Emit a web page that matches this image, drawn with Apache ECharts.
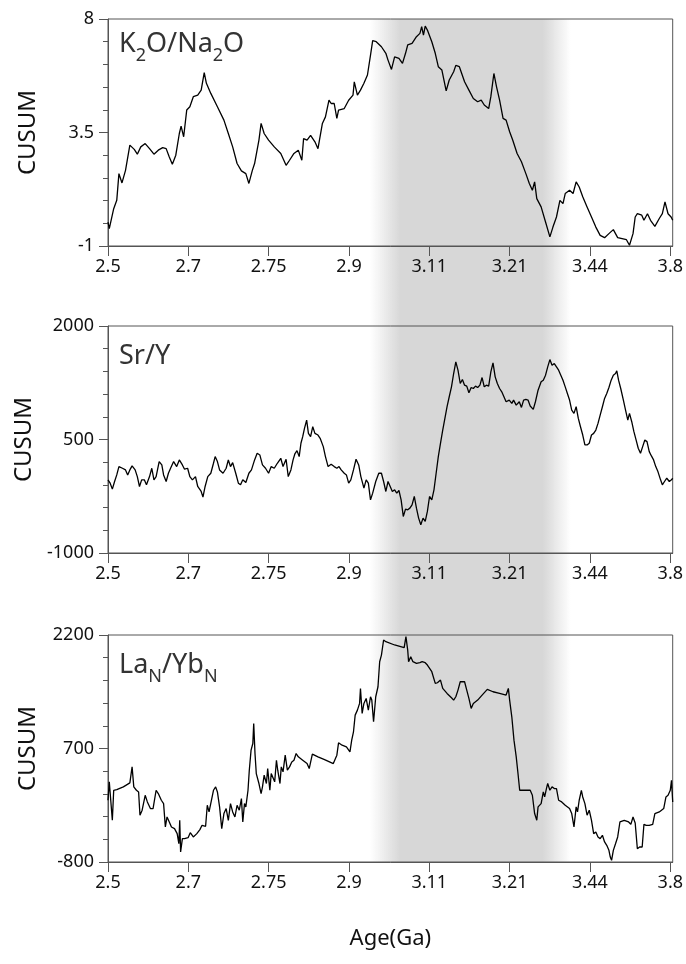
<!DOCTYPE html>
<html><head><meta charset="utf-8">
<script src="https://cdn.jsdelivr.net/npm/echarts@6/dist/echarts.min.js"></script>
<style>html,body{margin:0;padding:0;background:#fff}#c{width:686px;height:964px}</style>
</head><body><div id="c"></div><script>
// x positions are in tick units (0 = "2.5" tick ... 7 = "3.8" tick)
const tickLabels = ['2.5','2.7','2.75','2.9','3.11','3.21','3.44','3.8'];
const tickPos = [0,1,2,3,4,5,6,7];
const xMax = 7.03;
const bandRange = [3.24, 5.72];

const k2oX = [0,0.016,0.071,0.109,0.136,0.174,0.218,0.272,0.327,0.365,0.408,0.463,0.517,0.572,0.626,0.681,0.724,0.763,0.801,0.844,0.888,0.910,0.942,0.980,1.019,1.062,1.117,1.160,1.198,1.225,1.280,1.362,1.443,1.498,1.552,1.607,1.661,1.716,1.754,1.797,1.825,1.879,1.906,1.944,1.999,2.070,2.151,2.217,2.260,2.315,2.369,2.413,2.435,2.478,2.522,2.576,2.614,2.669,2.707,2.751,2.778,2.816,2.849,2.870,2.941,2.996,3.050,3.066,3.105,3.143,3.186,3.230,3.268,3.295,3.339,3.404,3.459,3.486,3.529,3.568,3.622,3.666,3.704,3.731,3.785,3.840,3.883,3.905,3.927,3.949,3.976,4.031,4.074,4.112,4.156,4.210,4.248,4.303,4.330,4.374,4.439,4.493,4.548,4.602,4.646,4.684,4.739,4.766,4.804,4.837,4.875,4.918,4.956,5.000,5.038,5.093,5.147,5.202,5.245,5.283,5.311,5.338,5.392,5.447,5.501,5.539,5.583,5.626,5.664,5.692,5.746,5.790,5.828,5.866,5.910,5.964,6.019,6.073,6.127,6.182,6.236,6.291,6.345,6.400,6.454,6.492,6.536,6.563,6.590,6.645,6.672,6.716,6.754,6.808,6.863,6.901,6.934,6.972,7.010,7.03];
const k2oY = [-0.05,-0.31,0.48,0.81,1.87,1.50,2.00,3.00,2.83,2.64,2.93,3.06,2.86,2.64,2.80,2.90,2.86,2.53,2.24,2.60,3.46,3.75,3.33,4.39,4.52,4.92,4.98,5.18,5.87,5.45,5.05,4.52,3.99,3.46,2.93,2.27,1.98,1.87,1.48,2.00,2.27,3.20,3.86,3.46,3.20,2.93,2.67,2.20,2.40,2.67,2.80,2.40,3.26,3.20,3.39,3.13,2.86,3.86,4.12,4.78,4.65,4.65,4.06,4.39,4.45,4.78,4.98,5.51,4.98,5.18,5.45,5.78,6.57,7.14,7.10,6.90,6.64,6.37,6.00,6.50,6.44,6.24,6.64,6.97,7.03,7.30,7.43,7.70,7.36,7.72,7.56,7.10,6.64,6.11,5.98,5.15,5.58,5.91,6.16,6.11,5.51,5.18,4.85,4.72,4.78,4.59,4.45,4.92,5.84,5.31,4.78,4.06,3.99,3.53,3.20,2.67,2.34,1.87,1.48,1.21,1.54,0.88,0.55,-0.05,-0.64,-0.25,0.15,0.81,0.68,1.08,1.21,1.08,1.54,1.34,0.95,0.55,0.15,-0.25,-0.58,-0.67,-0.51,-0.35,-0.67,-0.71,-0.75,-0.97,-0.51,0.15,0.28,0.22,0.02,0.28,0.02,-0.22,0.09,0.28,0.75,0.28,0.15,0.02];

const sryX = [0,0.027,0.054,0.082,0.109,0.136,0.180,0.218,0.245,0.272,0.300,0.338,0.365,0.392,0.419,0.452,0.479,0.517,0.545,0.572,0.599,0.637,0.670,0.692,0.724,0.752,0.779,0.817,0.855,0.888,0.926,0.953,0.991,1.019,1.051,1.089,1.117,1.160,1.182,1.209,1.242,1.280,1.313,1.334,1.362,1.389,1.432,1.471,1.498,1.525,1.552,1.590,1.623,1.650,1.678,1.716,1.754,1.786,1.825,1.857,1.890,1.923,1.961,1.999,2.032,2.070,2.108,2.151,2.179,2.217,2.244,2.277,2.304,2.326,2.353,2.380,2.402,2.424,2.446,2.473,2.495,2.522,2.549,2.576,2.614,2.641,2.680,2.707,2.740,2.778,2.816,2.849,2.876,2.903,2.941,2.968,2.996,3.023,3.056,3.088,3.121,3.148,3.186,3.214,3.241,3.268,3.295,3.333,3.371,3.404,3.431,3.459,3.486,3.513,3.540,3.568,3.595,3.622,3.649,3.676,3.704,3.731,3.758,3.785,3.813,3.840,3.867,3.894,3.922,3.949,3.976,4.003,4.031,4.058,4.085,4.112,4.139,4.167,4.194,4.221,4.248,4.276,4.303,4.330,4.357,4.385,4.412,4.439,4.466,4.493,4.521,4.548,4.575,4.602,4.630,4.657,4.684,4.711,4.739,4.766,4.793,4.820,4.847,4.875,4.902,4.929,4.956,4.995,5.027,5.049,5.082,5.120,5.147,5.174,5.202,5.229,5.256,5.294,5.321,5.354,5.392,5.419,5.447,5.474,5.501,5.528,5.556,5.583,5.610,5.637,5.664,5.692,5.719,5.746,5.773,5.801,5.828,5.855,5.882,5.910,5.937,5.964,5.991,6.019,6.046,6.073,6.100,6.127,6.155,6.182,6.209,6.236,6.264,6.291,6.318,6.334,6.356,6.383,6.416,6.443,6.471,6.492,6.520,6.547,6.574,6.601,6.629,6.656,6.683,6.710,6.738,6.765,6.792,6.819,6.846,6.879,6.901,6.928,6.956,6.988,7.015,7.03];
const sryY = [-33,-77,-156,-55,32,142,120,98,32,98,151,98,10,-121,-33,-33,-99,10,120,-33,10,208,164,32,-55,54,120,208,142,230,164,107,120,10,-33,10,-121,-187,-262,-121,10,54,186,274,208,98,54,120,230,142,195,54,-77,-99,-33,-69,54,98,230,318,296,164,120,54,142,120,186,252,142,239,10,98,230,309,353,274,450,537,647,757,581,537,669,581,559,516,406,274,142,173,142,120,142,98,54,32,-77,-33,98,239,164,10,-143,-33,-77,-297,-209,-55,54,54,-55,-187,-55,-121,-187,-165,-209,-174,-297,-517,-420,-429,-407,-363,-253,-407,-539,-626,-539,-582,-451,-253,-297,-165,54,274,450,625,779,933,1065,1196,1372,1526,1416,1240,1293,1218,1205,1117,1187,1174,1205,1187,1218,1319,1196,1218,1205,1394,1512,1328,1240,1174,1130,1065,999,1021,977,1021,955,999,924,1021,1029,1021,942,898,999,1152,1262,1284,1350,1460,1556,1482,1504,1460,1416,1350,1284,1196,1108,1021,889,845,933,779,669,559,428,428,450,559,581,625,713,823,933,1043,1108,1187,1284,1350,1372,1407,1284,1174,1021,889,757,845,735,603,494,384,318,406,494,472,340,283,230,142,76,-33,-99,-55,-12,-55,-33,-12];

const laybX = [0,0.016,0.038,0.054,0.071,0.109,0.191,0.272,0.300,0.321,0.354,0.381,0.398,0.425,0.463,0.490,0.528,0.561,0.599,0.626,0.664,0.692,0.714,0.735,0.763,0.790,0.828,0.861,0.882,0.893,0.904,0.926,0.953,0.997,1.024,1.062,1.106,1.144,1.171,1.215,1.236,1.258,1.280,1.313,1.340,1.362,1.389,1.416,1.443,1.471,1.498,1.525,1.552,1.580,1.607,1.634,1.661,1.678,1.699,1.716,1.743,1.759,1.781,1.803,1.814,1.830,1.846,1.879,1.906,1.923,1.944,1.972,1.988,2.015,2.032,2.053,2.075,2.097,2.113,2.141,2.157,2.179,2.206,2.233,2.260,2.288,2.315,2.342,2.369,2.424,2.478,2.505,2.544,2.614,2.696,2.805,2.849,2.870,2.914,2.968,3.012,3.034,3.056,3.077,3.105,3.132,3.143,3.164,3.186,3.214,3.241,3.268,3.284,3.306,3.333,3.361,3.382,3.404,3.431,3.459,3.568,3.687,3.709,3.731,3.742,3.769,3.796,3.840,3.883,3.911,3.949,3.976,4.031,4.074,4.101,4.139,4.167,4.221,4.276,4.303,4.330,4.357,4.385,4.439,4.466,4.493,4.521,4.548,4.602,4.657,4.722,4.793,4.875,4.956,4.984,5.000,5.027,5.054,5.082,5.104,5.125,5.202,5.256,5.283,5.311,5.338,5.354,5.392,5.419,5.436,5.458,5.474,5.501,5.528,5.556,5.583,5.610,5.648,5.692,5.746,5.773,5.801,5.828,5.845,5.866,5.893,5.910,5.937,5.964,5.991,6.019,6.046,6.073,6.100,6.127,6.155,6.182,6.209,6.236,6.253,6.269,6.291,6.318,6.345,6.373,6.427,6.481,6.509,6.536,6.563,6.590,6.618,6.650,6.672,6.700,6.738,6.781,6.808,6.863,6.918,6.946,6.972,7.000,7.015,7.03];
const laybY = [16,259,281,-249,148,157,193,245,457,193,148,126,-182,-116,82,-6,-94,-94,148,104,16,-28,-337,-205,-271,-337,-359,-425,-558,-249,-668,-491,-491,-478,-412,-469,-425,-372,-315,-328,-50,-138,-116,148,193,126,-72,-359,-160,-94,-249,-28,-138,-205,-50,-116,38,-271,-28,-72,148,413,678,766,1031,634,369,237,104,193,347,237,435,148,369,391,259,545,413,237,457,391,612,413,457,523,545,634,590,545,501,435,625,590,554,501,612,775,744,722,656,810,921,1141,1207,1296,1494,1163,1296,1362,1207,1384,1340,1053,1384,1516,1847,1935,2134,2112,2068,2032,2178,2001,1847,1913,1847,1825,1834,1847,1834,1803,1715,1560,1569,1604,1494,1428,1371,1340,1384,1472,1582,1582,1472,1362,1229,1296,1340,1406,1481,1450,1428,1406,1494,1340,1119,810,590,369,148,148,148,82,-160,-249,-72,-28,126,60,170,237,148,193,170,170,16,-6,-50,-94,-160,-337,-72,-138,16,148,60,-28,-182,-116,-249,-425,-403,-469,-491,-447,-535,-580,-646,-734,-778,-646,-558,-469,-271,-249,-271,-302,-205,-284,-624,-602,-602,-302,-315,-315,-302,-160,-138,-94,60,82,148,281,-6];

const panelLabels = ['{m|K}{s|2}{m|O/Na}{s|2}{m|O}', '{m|Sr/Y}', '{m|La}{s|N}{m|/Yb}{s|N}'];
const yMins = [-1, -1000, -800];
const yMaxs = [8, 2000, 2200];
const yLabelVals = [[-1,3.5,8],[-1000,500,2000],[-800,700,2200]];
const seriesX = [k2oX, sryX, laybX];
const seriesY = [k2oY, sryY, laybY];

// layout
const gridTops = [19, 326, 635];
const gridH = 227, gridLeft = 108, gridW = 569;
const titleTops = [31, 343, 652];
const FONT = 'Noto Sans';
const axisCol = '#555';

const chart = echarts.init(document.getElementById('c'), null, {renderer:'canvas'});
const grid = [], xAxis = [], yAxis = [], series = [], title = [];
for (let i = 0; i < 3; i++) {
  grid.push({left: gridLeft, width: gridW, top: gridTops[i], height: gridH, show: true,
    borderColor: axisCol, borderWidth: 1, backgroundColor: 'transparent'});
  xAxis.push({gridIndex: i, type: 'value', min: 0, max: xMax,
    axisLine: {show: true, onZero: false, lineStyle: {color: axisCol, width: 1}},
    axisTick: {show: true, length: 10, customValues: tickPos, lineStyle: {color: axisCol}},
    axisLabel: {customValues: tickPos, formatter: v => tickLabels[Math.round(v)], fontFamily: FONT, fontSize: 18, color: '#111', margin: 12},
    splitLine: {show: false},
    name: i === 2 ? 'Age(Ga)' : '', nameLocation: 'middle', nameGap: 66,
    nameTextStyle: {fontFamily: FONT, fontSize: 22, color: '#111'}});
  const mn = yMins[i], mx = yMaxs[i];
  const minors = Array.from({length: 11}, (_, k) => mn + (mx - mn) * k / 10);
  yAxis.push({gridIndex: i, type: 'value', min: mn, max: mx, position: 'left',
    axisLine: {show: true, onZero: false, lineStyle: {color: axisCol, width: 1}},
    axisTick: {show: true, length: 9, customValues: yLabelVals[i], lineStyle: {color: axisCol}},
    axisLabel: {customValues: yLabelVals[i], formatter: v => String(v), fontFamily: FONT, fontSize: 18, color: '#111', margin: 14},
    splitLine: {show: false},
    name: 'CUSUM', nameLocation: 'middle', nameGap: 68, nameRotate: 90,
    nameTextStyle: {fontFamily: FONT, fontSize: 24, color: '#111'}});
  yAxis.push({gridIndex: i, type: 'value', min: mn, max: mx, position: 'left', offset: 0,
    axisLine: {show: false, onZero: false}, axisTick: {show: true, length: 5, customValues: minors, lineStyle: {color: axisCol}},
    axisLabel: {show: false}, splitLine: {show: false}});
  series.push({type: 'line', xAxisIndex: i, yAxisIndex: 2 * i, showSymbol: false, symbol: 'none',
    data: seriesX[i].map((x, k) => [x, seriesY[i][k]]), z: 3,
    lineStyle: {color: '#000', width: 1.3}, animation: false});
  title.push({text: panelLabels[i], left: 119, top: titleTops[i], padding: 0,
    textStyle: {fontFamily: FONT, fontWeight: 'normal', color: '#333', rich: {
      m: {fontFamily: FONT, fontWeight: 'normal', fontSize: 27, color: '#333', padding: [0, 0, 7, 0], verticalAlign: 'bottom'},
      s: {fontFamily: FONT, fontWeight: 'normal', fontSize: 18, color: '#333', verticalAlign: 'bottom'}}}});
}
// shaded band spanning all panels
grid.push({left: gridLeft, width: gridW, top: gridTops[0], height: gridTops[2] + gridH - gridTops[0], show: false});
xAxis.push({gridIndex: 3, type: 'value', min: 0, max: xMax, show: false});
yAxis.push({gridIndex: 3, type: 'value', min: 0, max: 1, show: false});
series.push({type: 'line', xAxisIndex: 3, yAxisIndex: 6, data: [], z: -5, silent: true, animation: false,
  markArea: {silent: true, z: -5, itemStyle: {color: {type: 'linear', x: 0, y: 0, x2: 1, y2: 0, colorStops: [
    {offset: 0, color: 'rgba(215,215,215,0)'}, {offset: 0.15, color: 'rgba(215,215,215,1)'},
    {offset: 0.86, color: 'rgba(215,215,215,1)'}, {offset: 1, color: 'rgba(215,215,215,0)'}]}},
    data: [[{xAxis: bandRange[0]}, {xAxis: bandRange[1]}]]}});

chart.setOption({animation: false, title, grid, xAxis, yAxis, series});
</script></body></html>
